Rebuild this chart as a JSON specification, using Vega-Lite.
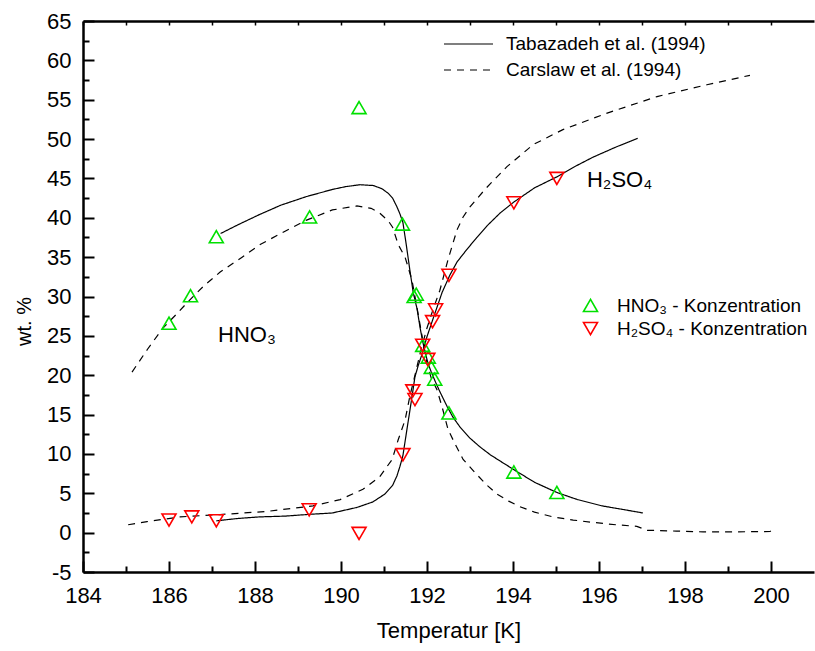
{
  "$schema": "https://vega.github.io/schema/vega-lite/v6.json",
  "width": 731,
  "height": 551,
  "autosize": {"type": "none"},
  "padding": {"left": 83, "top": 21, "right": 1, "bottom": 79},
  "background": "white",
  "config": {
    "view": {"stroke": null},
    "font": "Liberation Sans",
    "axis": {"domainColor": "black", "tickColor": "black", "labelColor": "black", "titleColor": "black", "grid": false, "labelFont": "Liberation Sans", "titleFont": "Liberation Sans", "titleFontWeight": "normal"},
    "legend": {"labelFont": "Liberation Sans", "labelColor": "black", "labelLimit": 400}
  },
  "datasets": {
    "lines": [
      {"m":"Tabazadeh et al. (1994)","s":"HNO3","T":187.2,"w":38.0},
      {"m":"Tabazadeh et al. (1994)","s":"HNO3","T":187.6,"w":39.1},
      {"m":"Tabazadeh et al. (1994)","s":"HNO3","T":188.1,"w":40.4},
      {"m":"Tabazadeh et al. (1994)","s":"HNO3","T":188.6,"w":41.6},
      {"m":"Tabazadeh et al. (1994)","s":"HNO3","T":189.2,"w":42.7},
      {"m":"Tabazadeh et al. (1994)","s":"HNO3","T":189.8,"w":43.6},
      {"m":"Tabazadeh et al. (1994)","s":"HNO3","T":190.1,"w":43.95},
      {"m":"Tabazadeh et al. (1994)","s":"HNO3","T":190.44,"w":44.2},
      {"m":"Tabazadeh et al. (1994)","s":"HNO3","T":190.75,"w":44.1},
      {"m":"Tabazadeh et al. (1994)","s":"HNO3","T":190.95,"w":43.7},
      {"m":"Tabazadeh et al. (1994)","s":"HNO3","T":191.1,"w":43.1},
      {"m":"Tabazadeh et al. (1994)","s":"HNO3","T":191.2,"w":42.5},
      {"m":"Tabazadeh et al. (1994)","s":"HNO3","T":191.3,"w":41.4},
      {"m":"Tabazadeh et al. (1994)","s":"HNO3","T":191.37,"w":40.5},
      {"m":"Tabazadeh et al. (1994)","s":"HNO3","T":191.44,"w":39.4},
      {"m":"Tabazadeh et al. (1994)","s":"HNO3","T":191.52,"w":36.5},
      {"m":"Tabazadeh et al. (1994)","s":"HNO3","T":191.6,"w":33.4},
      {"m":"Tabazadeh et al. (1994)","s":"HNO3","T":191.68,"w":30.5},
      {"m":"Tabazadeh et al. (1994)","s":"HNO3","T":191.77,"w":28.4},
      {"m":"Tabazadeh et al. (1994)","s":"HNO3","T":191.84,"w":26.0},
      {"m":"Tabazadeh et al. (1994)","s":"HNO3","T":191.9,"w":24.3},
      {"m":"Tabazadeh et al. (1994)","s":"HNO3","T":191.96,"w":22.8},
      {"m":"Tabazadeh et al. (1994)","s":"HNO3","T":192.03,"w":21.4},
      {"m":"Tabazadeh et al. (1994)","s":"HNO3","T":192.1,"w":20.4},
      {"m":"Tabazadeh et al. (1994)","s":"HNO3","T":192.2,"w":19.1},
      {"m":"Tabazadeh et al. (1994)","s":"HNO3","T":192.3,"w":17.9},
      {"m":"Tabazadeh et al. (1994)","s":"HNO3","T":192.47,"w":16.0},
      {"m":"Tabazadeh et al. (1994)","s":"HNO3","T":192.6,"w":14.7},
      {"m":"Tabazadeh et al. (1994)","s":"HNO3","T":192.77,"w":13.4},
      {"m":"Tabazadeh et al. (1994)","s":"HNO3","T":193.0,"w":12.0},
      {"m":"Tabazadeh et al. (1994)","s":"HNO3","T":193.23,"w":10.9},
      {"m":"Tabazadeh et al. (1994)","s":"HNO3","T":193.47,"w":9.9},
      {"m":"Tabazadeh et al. (1994)","s":"HNO3","T":193.7,"w":9.1},
      {"m":"Tabazadeh et al. (1994)","s":"HNO3","T":194.02,"w":8.0},
      {"m":"Tabazadeh et al. (1994)","s":"HNO3","T":194.5,"w":6.4},
      {"m":"Tabazadeh et al. (1994)","s":"HNO3","T":195.02,"w":5.1},
      {"m":"Tabazadeh et al. (1994)","s":"HNO3","T":195.5,"w":4.2},
      {"m":"Tabazadeh et al. (1994)","s":"HNO3","T":196.07,"w":3.4},
      {"m":"Tabazadeh et al. (1994)","s":"HNO3","T":196.5,"w":3.0},
      {"m":"Tabazadeh et al. (1994)","s":"HNO3","T":197.02,"w":2.5},
      {"m":"Tabazadeh et al. (1994)","s":"H2SO4","T":187.1,"w":1.5},
      {"m":"Tabazadeh et al. (1994)","s":"H2SO4","T":187.6,"w":1.8},
      {"m":"Tabazadeh et al. (1994)","s":"H2SO4","T":188.1,"w":2.0},
      {"m":"Tabazadeh et al. (1994)","s":"H2SO4","T":188.7,"w":2.1},
      {"m":"Tabazadeh et al. (1994)","s":"H2SO4","T":189.2,"w":2.3},
      {"m":"Tabazadeh et al. (1994)","s":"H2SO4","T":189.8,"w":2.5},
      {"m":"Tabazadeh et al. (1994)","s":"H2SO4","T":190.37,"w":3.2},
      {"m":"Tabazadeh et al. (1994)","s":"H2SO4","T":190.74,"w":3.9},
      {"m":"Tabazadeh et al. (1994)","s":"H2SO4","T":191.02,"w":4.9},
      {"m":"Tabazadeh et al. (1994)","s":"H2SO4","T":191.2,"w":6.0},
      {"m":"Tabazadeh et al. (1994)","s":"H2SO4","T":191.3,"w":7.2},
      {"m":"Tabazadeh et al. (1994)","s":"H2SO4","T":191.37,"w":8.4},
      {"m":"Tabazadeh et al. (1994)","s":"H2SO4","T":191.44,"w":9.8},
      {"m":"Tabazadeh et al. (1994)","s":"H2SO4","T":191.53,"w":13.0},
      {"m":"Tabazadeh et al. (1994)","s":"H2SO4","T":191.63,"w":16.5},
      {"m":"Tabazadeh et al. (1994)","s":"H2SO4","T":191.72,"w":19.8},
      {"m":"Tabazadeh et al. (1994)","s":"H2SO4","T":191.8,"w":21.3},
      {"m":"Tabazadeh et al. (1994)","s":"H2SO4","T":191.88,"w":22.6},
      {"m":"Tabazadeh et al. (1994)","s":"H2SO4","T":192.0,"w":24.9},
      {"m":"Tabazadeh et al. (1994)","s":"H2SO4","T":192.13,"w":27.0},
      {"m":"Tabazadeh et al. (1994)","s":"H2SO4","T":192.35,"w":30.5},
      {"m":"Tabazadeh et al. (1994)","s":"H2SO4","T":192.53,"w":32.7},
      {"m":"Tabazadeh et al. (1994)","s":"H2SO4","T":192.7,"w":34.4},
      {"m":"Tabazadeh et al. (1994)","s":"H2SO4","T":192.93,"w":36.0},
      {"m":"Tabazadeh et al. (1994)","s":"H2SO4","T":193.16,"w":37.5},
      {"m":"Tabazadeh et al. (1994)","s":"H2SO4","T":193.4,"w":39.0},
      {"m":"Tabazadeh et al. (1994)","s":"H2SO4","T":193.7,"w":40.6},
      {"m":"Tabazadeh et al. (1994)","s":"H2SO4","T":194.02,"w":42.0},
      {"m":"Tabazadeh et al. (1994)","s":"H2SO4","T":194.5,"w":43.8},
      {"m":"Tabazadeh et al. (1994)","s":"H2SO4","T":195.02,"w":45.2},
      {"m":"Tabazadeh et al. (1994)","s":"H2SO4","T":195.4,"w":46.4},
      {"m":"Tabazadeh et al. (1994)","s":"H2SO4","T":195.86,"w":47.7},
      {"m":"Tabazadeh et al. (1994)","s":"H2SO4","T":196.4,"w":49.0},
      {"m":"Tabazadeh et al. (1994)","s":"H2SO4","T":196.9,"w":50.1},
      {"m":"Carslaw et al. (1994)","s":"HNO3","T":185.14,"w":20.4},
      {"m":"Carslaw et al. (1994)","s":"HNO3","T":185.5,"w":23.3},
      {"m":"Carslaw et al. (1994)","s":"HNO3","T":185.86,"w":26.0},
      {"m":"Carslaw et al. (1994)","s":"HNO3","T":186.2,"w":27.9},
      {"m":"Carslaw et al. (1994)","s":"HNO3","T":186.42,"w":29.2},
      {"m":"Carslaw et al. (1994)","s":"HNO3","T":186.8,"w":31.3},
      {"m":"Carslaw et al. (1994)","s":"HNO3","T":187.19,"w":33.1},
      {"m":"Carslaw et al. (1994)","s":"HNO3","T":187.7,"w":35.0},
      {"m":"Carslaw et al. (1994)","s":"HNO3","T":188.12,"w":36.6},
      {"m":"Carslaw et al. (1994)","s":"HNO3","T":188.7,"w":38.3},
      {"m":"Carslaw et al. (1994)","s":"HNO3","T":189.2,"w":39.7},
      {"m":"Carslaw et al. (1994)","s":"HNO3","T":189.8,"w":41.0},
      {"m":"Carslaw et al. (1994)","s":"HNO3","T":190.37,"w":41.5},
      {"m":"Carslaw et al. (1994)","s":"HNO3","T":190.7,"w":41.2},
      {"m":"Carslaw et al. (1994)","s":"HNO3","T":190.9,"w":40.6},
      {"m":"Carslaw et al. (1994)","s":"HNO3","T":191.1,"w":39.6},
      {"m":"Carslaw et al. (1994)","s":"HNO3","T":191.2,"w":38.8},
      {"m":"Carslaw et al. (1994)","s":"HNO3","T":191.33,"w":36.6},
      {"m":"Carslaw et al. (1994)","s":"HNO3","T":191.49,"w":35.0},
      {"m":"Carslaw et al. (1994)","s":"HNO3","T":191.65,"w":32.1},
      {"m":"Carslaw et al. (1994)","s":"HNO3","T":191.79,"w":27.9},
      {"m":"Carslaw et al. (1994)","s":"HNO3","T":191.9,"w":24.5},
      {"m":"Carslaw et al. (1994)","s":"HNO3","T":192.0,"w":21.5},
      {"m":"Carslaw et al. (1994)","s":"HNO3","T":192.1,"w":19.6},
      {"m":"Carslaw et al. (1994)","s":"HNO3","T":192.23,"w":18.2},
      {"m":"Carslaw et al. (1994)","s":"HNO3","T":192.35,"w":16.0},
      {"m":"Carslaw et al. (1994)","s":"HNO3","T":192.49,"w":13.1},
      {"m":"Carslaw et al. (1994)","s":"HNO3","T":192.65,"w":11.3},
      {"m":"Carslaw et al. (1994)","s":"HNO3","T":192.84,"w":9.3},
      {"m":"Carslaw et al. (1994)","s":"HNO3","T":193.12,"w":7.6},
      {"m":"Carslaw et al. (1994)","s":"HNO3","T":193.4,"w":6.0},
      {"m":"Carslaw et al. (1994)","s":"HNO3","T":193.63,"w":4.9},
      {"m":"Carslaw et al. (1994)","s":"HNO3","T":193.9,"w":4.0},
      {"m":"Carslaw et al. (1994)","s":"HNO3","T":194.16,"w":3.3},
      {"m":"Carslaw et al. (1994)","s":"HNO3","T":194.5,"w":2.6},
      {"m":"Carslaw et al. (1994)","s":"HNO3","T":194.93,"w":2.0},
      {"m":"Carslaw et al. (1994)","s":"HNO3","T":195.4,"w":1.6},
      {"m":"Carslaw et al. (1994)","s":"HNO3","T":195.86,"w":1.3},
      {"m":"Carslaw et al. (1994)","s":"HNO3","T":196.4,"w":1.0},
      {"m":"Carslaw et al. (1994)","s":"HNO3","T":196.88,"w":0.8},
      {"m":"Carslaw et al. (1994)","s":"HNO3","T":197.0,"w":0.55},
      {"m":"Carslaw et al. (1994)","s":"HNO3","T":197.12,"w":0.3},
      {"m":"Carslaw et al. (1994)","s":"HNO3","T":197.8,"w":0.2},
      {"m":"Carslaw et al. (1994)","s":"HNO3","T":198.42,"w":0.1},
      {"m":"Carslaw et al. (1994)","s":"HNO3","T":199.2,"w":0.1},
      {"m":"Carslaw et al. (1994)","s":"HNO3","T":199.98,"w":0.15},
      {"m":"Carslaw et al. (1994)","s":"HNO3","T":200.05,"w":0.5},
      {"m":"Carslaw et al. (1994)","s":"H2SO4","T":185.05,"w":1.0},
      {"m":"Carslaw et al. (1994)","s":"H2SO4","T":185.49,"w":1.4},
      {"m":"Carslaw et al. (1994)","s":"H2SO4","T":186.26,"w":2.0},
      {"m":"Carslaw et al. (1994)","s":"H2SO4","T":187.19,"w":2.3},
      {"m":"Carslaw et al. (1994)","s":"H2SO4","T":188.28,"w":2.7},
      {"m":"Carslaw et al. (1994)","s":"H2SO4","T":189.35,"w":3.4},
      {"m":"Carslaw et al. (1994)","s":"H2SO4","T":189.98,"w":4.2},
      {"m":"Carslaw et al. (1994)","s":"H2SO4","T":190.51,"w":5.5},
      {"m":"Carslaw et al. (1994)","s":"H2SO4","T":190.9,"w":7.1},
      {"m":"Carslaw et al. (1994)","s":"H2SO4","T":191.19,"w":9.3},
      {"m":"Carslaw et al. (1994)","s":"H2SO4","T":191.33,"w":11.8},
      {"m":"Carslaw et al. (1994)","s":"H2SO4","T":191.49,"w":14.3},
      {"m":"Carslaw et al. (1994)","s":"H2SO4","T":191.6,"w":17.3},
      {"m":"Carslaw et al. (1994)","s":"H2SO4","T":191.72,"w":20.0},
      {"m":"Carslaw et al. (1994)","s":"H2SO4","T":191.85,"w":23.0},
      {"m":"Carslaw et al. (1994)","s":"H2SO4","T":192.0,"w":26.0},
      {"m":"Carslaw et al. (1994)","s":"H2SO4","T":192.15,"w":28.5},
      {"m":"Carslaw et al. (1994)","s":"H2SO4","T":192.3,"w":30.8},
      {"m":"Carslaw et al. (1994)","s":"H2SO4","T":192.49,"w":34.7},
      {"m":"Carslaw et al. (1994)","s":"H2SO4","T":192.7,"w":38.5},
      {"m":"Carslaw et al. (1994)","s":"H2SO4","T":192.84,"w":40.1},
      {"m":"Carslaw et al. (1994)","s":"H2SO4","T":193.0,"w":41.4},
      {"m":"Carslaw et al. (1994)","s":"H2SO4","T":193.38,"w":43.8},
      {"m":"Carslaw et al. (1994)","s":"H2SO4","T":193.86,"w":46.5},
      {"m":"Carslaw et al. (1994)","s":"H2SO4","T":194.47,"w":49.3},
      {"m":"Carslaw et al. (1994)","s":"H2SO4","T":195.16,"w":51.2},
      {"m":"Carslaw et al. (1994)","s":"H2SO4","T":196.19,"w":53.3},
      {"m":"Carslaw et al. (1994)","s":"H2SO4","T":197.35,"w":55.4},
      {"m":"Carslaw et al. (1994)","s":"H2SO4","T":198.51,"w":56.9},
      {"m":"Carslaw et al. (1994)","s":"H2SO4","T":199.51,"w":58.1}
    ],
    "pts": [
      {"s":"HNO₃ - Konzentration","T":186.0,"w":26.6},
      {"s":"HNO₃ - Konzentration","T":186.5,"w":30.1},
      {"s":"HNO₃ - Konzentration","T":187.1,"w":37.6},
      {"s":"HNO₃ - Konzentration","T":189.27,"w":40.1},
      {"s":"HNO₃ - Konzentration","T":190.42,"w":54.0},
      {"s":"HNO₃ - Konzentration","T":191.43,"w":39.2},
      {"s":"HNO₃ - Konzentration","T":191.7,"w":30.0},
      {"s":"HNO₃ - Konzentration","T":191.75,"w":30.3},
      {"s":"HNO₃ - Konzentration","T":191.9,"w":23.8},
      {"s":"HNO₃ - Konzentration","T":192.03,"w":22.3},
      {"s":"HNO₃ - Konzentration","T":192.1,"w":21.0},
      {"s":"HNO₃ - Konzentration","T":192.18,"w":19.5},
      {"s":"HNO₃ - Konzentration","T":192.51,"w":15.2},
      {"s":"HNO₃ - Konzentration","T":194.02,"w":7.7},
      {"s":"HNO₃ - Konzentration","T":195.02,"w":5.1},
      {"s":"H₂SO₄ - Konzentration","T":186.0,"w":1.6},
      {"s":"H₂SO₄ - Konzentration","T":186.53,"w":2.0},
      {"s":"H₂SO₄ - Konzentration","T":187.1,"w":1.5},
      {"s":"H₂SO₄ - Konzentration","T":189.26,"w":2.9},
      {"s":"H₂SO₄ - Konzentration","T":190.42,"w":-0.1},
      {"s":"H₂SO₄ - Konzentration","T":191.44,"w":9.9},
      {"s":"H₂SO₄ - Konzentration","T":191.67,"w":18.0},
      {"s":"H₂SO₄ - Konzentration","T":191.72,"w":16.9},
      {"s":"H₂SO₄ - Konzentration","T":191.9,"w":23.8},
      {"s":"H₂SO₄ - Konzentration","T":192.02,"w":22.0},
      {"s":"H₂SO₄ - Konzentration","T":192.13,"w":26.8},
      {"s":"H₂SO₄ - Konzentration","T":192.2,"w":28.3},
      {"s":"H₂SO₄ - Konzentration","T":192.51,"w":32.7},
      {"s":"H₂SO₄ - Konzentration","T":194.02,"w":41.9},
      {"s":"H₂SO₄ - Konzentration","T":195.02,"w":45.0}
    ],
    "lbl": [
      {"k":"a","t":"HNO₃","T":187.14,"w":24.2},
      {"k":"b","t":"H₂SO₄","T":195.72,"w":43.9}
    ]
  },
  "layer": [
    {
      "data": {"name": "lines"},
      "mark": {"type": "line", "color": "black", "strokeWidth": 1.2},
      "encoding": {
        "x": {"field": "T", "type": "quantitative", "scale": {"domain": [184, 201], "nice": false, "zero": false},
          "axis": {"orient": "bottom", "values": [184,186,188,190,192,194,196,198,200], "ticks": false, "domain": true, "domainWidth": 2.5, "labelPadding": 13, "labelFontSize": 22, "labelFlush": false, "labelOverlap": false, "title": "Temperatur [K]", "titleFontSize": 22, "titleY": 48, "titleBaseline": "top"}},
        "y": {"field": "w", "type": "quantitative", "scale": {"domain": [-5, 65], "nice": false, "zero": false},
          "axis": {"orient": "left", "values": [-5,0,5,10,15,20,25,30,35,40,45,50,55,60,65], "labelExpr": "datum.value + ''", "ticks": false, "domain": true, "domainWidth": 2.5, "labelPadding": 12, "labelFontSize": 22, "labelFlush": false, "labelOverlap": false, "title": "wt. %", "titleFontSize": 20, "titleX": -49, "titleY": 300, "titleAngle": -90, "titleAlign": "center", "titleBaseline": "bottom"}},
        "strokeDash": {"field": "m", "type": "nominal",
          "scale": {"domain": ["Tabazadeh et al. (1994)", "Carslaw et al. (1994)"], "range": [[1, 0], [7, 6]]},
          "legend": {"orient": "none", "legendX": 360, "legendY": 11, "title": null, "padding": 0, "symbolType": "stroke", "symbolSize": 2401, "symbolStrokeColor": "black", "symbolStrokeWidth": 1.2, "labelFontSize": 19, "labelOffset": 12, "clipHeight": 24, "rowPadding": 2}},
        "detail": {"field": "s"}
      }
    },
    {
      "data": {"name": "pts"},
      "mark": {"type": "point", "filled": false, "strokeWidth": 1.6, "size": 196, "opacity": 1},
      "encoding": {
        "x": {"field": "T", "type": "quantitative", "scale": {"domain": [184, 201], "nice": false, "zero": false},
          "axis": {"orient": "bottom", "values": [184,186,188,190,192,194,196,198,200], "labels": false, "domain": false, "ticks": true, "tickSize": -11, "tickWidth": 2, "title": null}},
        "y": {"field": "w", "type": "quantitative", "scale": {"domain": [-5, 65], "nice": false, "zero": false},
          "axis": {"orient": "left", "values": [-5,0,5,10,15,20,25,30,35,40,45,50,55,60,65], "labels": false, "domain": false, "ticks": true, "tickSize": -11, "tickWidth": 2, "title": null}},
        "shape": {"field": "s", "type": "nominal",
          "scale": {"domain": ["HNO₃ - Konzentration", "H₂SO₄ - Konzentration"], "range": ["triangle-up", "triangle-down"]},
          "legend": {"orient": "none", "legendX": 498, "legendY": 274, "title": null, "padding": 0, "symbolSize": 196, "symbolStrokeWidth": 1.6, "labelFontSize": 19, "labelOffset": 17, "clipHeight": 21, "rowPadding": 2}},
        "color": {"field": "s", "type": "nominal",
          "scale": {"domain": ["HNO₃ - Konzentration", "H₂SO₄ - Konzentration"], "range": ["#00e000", "#ff0000"]},
          "legend": {"orient": "none", "legendX": 498, "legendY": 274, "title": null, "padding": 0, "symbolSize": 196, "symbolStrokeWidth": 1.6, "labelFontSize": 19, "labelOffset": 17, "clipHeight": 21, "rowPadding": 2}}
      }
    },
    {
      "data": {"name": "lbl"},
      "transform": [{"filter": "datum.k == 'a'"}],
      "mark": {"type": "text", "align": "left", "baseline": "alphabetic", "fontSize": 22, "color": "black", "font": "Liberation Sans"},
      "encoding": {
        "x": {"field": "T", "type": "quantitative", "scale": {"domain": [184, 201], "nice": false, "zero": false},
          "axis": {"orient": "bottom", "values": [185,187,189,191,193,195,197,199], "labels": false, "domain": false, "ticks": true, "tickSize": -6, "tickWidth": 2, "title": null}},
        "y": {"field": "w", "type": "quantitative", "scale": {"domain": [-5, 65], "nice": false, "zero": false},
          "axis": {"orient": "left", "values": [-2.5,2.5,7.5,12.5,17.5,22.5,27.5,32.5,37.5,42.5,47.5,52.5,57.5,62.5], "labels": false, "domain": false, "ticks": true, "tickSize": -6, "tickWidth": 2, "title": null}},
        "text": {"field": "t"}
      }
    },
    {
      "data": {"name": "lbl"},
      "transform": [{"filter": "datum.k == 'b'"}],
      "mark": {"type": "text", "align": "left", "baseline": "alphabetic", "fontSize": 22, "color": "black", "font": "Liberation Sans"},
      "encoding": {
        "x": {"field": "T", "type": "quantitative", "scale": {"domain": [184, 201], "nice": false, "zero": false},
          "axis": {"orient": "top", "values": [184,185,186,187,188,189,190,191,192,193,194,195,196,197,198,199,200], "labels": false, "domain": true, "domainWidth": 2.5, "ticks": true, "tickSize": -4, "tickWidth": 1.5, "title": null}},
        "y": {"field": "w", "type": "quantitative", "scale": {"domain": [-5, 65], "nice": false, "zero": false}, "axis": null},
        "text": {"field": "t"}
      }
    }
  ],
  "resolve": {"scale": {"x": "independent", "y": "independent"}, "axis": {"x": "independent", "y": "independent"}}
}
